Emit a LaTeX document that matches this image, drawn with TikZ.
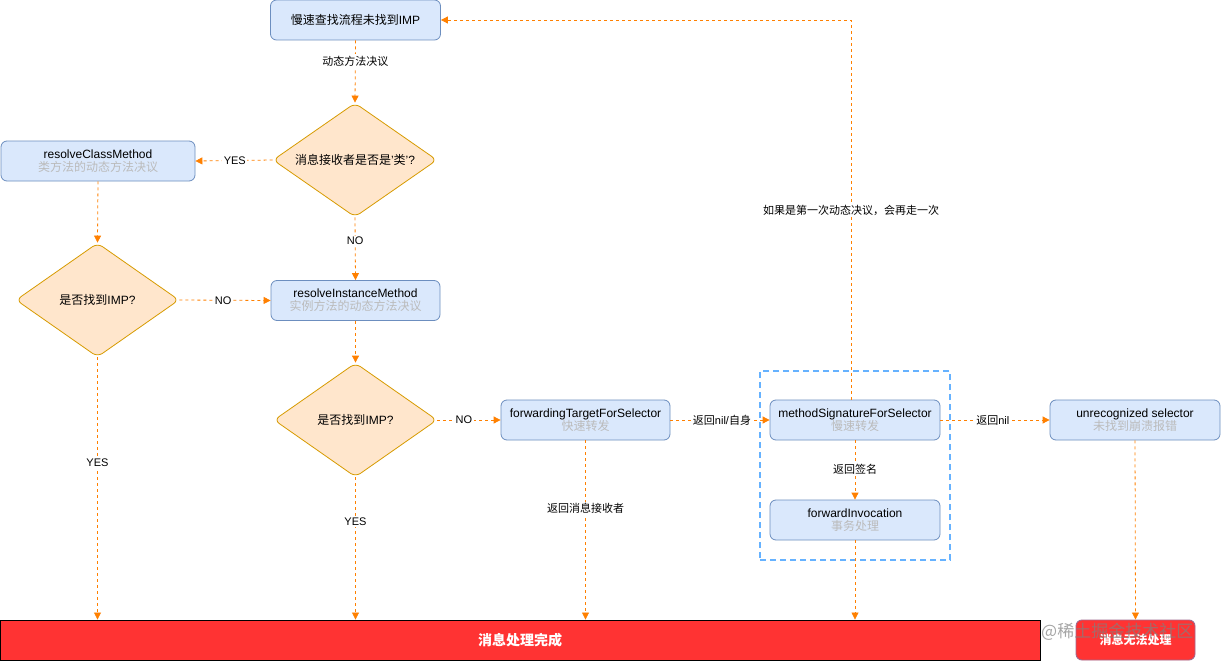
\documentclass[tikz,border=0pt]{standalone}
\usepackage{fontspec}
\setmainfont{Liberation Sans}
\newfontfamily\cjk{Noto Sans CJK SC}
\usetikzlibrary{shapes.geometric,arrows.meta}
\newcommand{\zh}[1]{{\cjk #1}}
\definecolor{nodefill}{HTML}{DAE8FC}
\definecolor{nodeline}{HTML}{6C8EBF}
\definecolor{decfill}{HTML}{FFE6CC}
\definecolor{decline}{HTML}{D79B00}
\definecolor{arrowc}{HTML}{FF8000}
\definecolor{barred}{HTML}{FF3333}
\definecolor{subgray}{HTML}{BBBBBB}
\definecolor{boxblue}{HTML}{66B2FF}
\definecolor{redline}{HTML}{A0698F}
\tikzset{
  proc/.style={draw=nodeline, fill=nodefill, rounded corners=6pt, minimum width=169pt,
    minimum height=40pt, inner sep=0pt, align=center, line width=0.8pt,
    font=\fontsize{12}{14}\selectfont},
  dec/.style={diamond, aspect=1.44, draw=decline, fill=decfill, rounded corners=6pt, minimum width=164pt,
    minimum height=114pt, inner sep=0pt, line width=0.8pt, font=\fontsize{12}{14}\selectfont},
  flow/.style={draw=arrowc, dash pattern=on 3pt off 3pt, line width=0.8pt,
    -{Triangle[length=7pt,width=7pt]}},
  lbl/.style={fill=white, inner sep=1.5pt, font=\fontsize{11}{13}\selectfont, text=black},
  sub/.style={text=subgray}
}
\begin{document}
\begin{tikzpicture}[x=1pt,y=-1pt]
\useasboundingbox (0,0) rectangle (1221,661);
\fill[white] (0,0) rectangle (1221,661);

% group box
\node[draw=boxblue, dash pattern=on 6pt off 4pt, line width=1.6pt, minimum width=190pt,
  minimum height=189pt, inner sep=0pt] (grp) at (855,465.5) {};

% nodes
\node[proc, minimum width=170pt] (top) at (355.5,20) {\zh{慢速查找流程未找到}IMP};
\node[dec] (d1) at (355,160) {\zh{消息接收者是否是}'\zh{类}'?};
\node[proc, minimum width=194pt] (rc) at (98,161) {resolveClassMethod\\[-1pt]\textcolor{subgray}{\zh{类方法的动态方法决议}}};
\node[dec, minimum width=163pt] (d2) at (97.5,300) {\zh{是否找到}IMP?};
\node[proc] (ri) at (355.5,300.5) {resolveInstanceMethod\\[-1pt]\textcolor{subgray}{\zh{实例方法的动态方法决议}}};
\node[dec, minimum width=163pt] (d3) at (355.5,420) {\zh{是否找到}IMP?};
\node[proc] (ft) at (585.5,420) {forwardingTargetForSelector\\[-1pt]\textcolor{subgray}{\zh{快速转发}}};
\node[proc, minimum width=170pt] (ms) at (855,420) {methodSignatureForSelector\\[-1pt]\textcolor{subgray}{\zh{慢速转发}}};
\node[proc, minimum width=170pt] (fi) at (855,520) {forwardInvocation\\[-1pt]\textcolor{subgray}{\zh{事务处理}}};
\node[proc, minimum width=170pt] (ur) at (1135,420) {unrecognized selector\\[-1pt]\textcolor{subgray}{\zh{未找到崩溃报错}}};
\node[draw=black, fill=barred, line width=0.9pt, minimum width=1040pt, minimum height=40pt,
  inner sep=0pt, text=white, font=\fontsize{14}{16}\selectfont\cjk\bfseries] (bar) at (520,640) {消息处理完成};
\node[draw=redline, fill=barred, rounded corners=6pt, line width=0.9pt, minimum width=119pt,
  minimum height=40pt, inner sep=0pt, text=white, font=\fontsize{12}{14}\selectfont\cjk\bfseries] (nf) at (1135.5,640) {消息无法处理};

% connectors
\draw[flow] (top.south) -- node[lbl, pos=0.33] {\zh{动态方法决议}} (d1.north);
\draw[flow] (d1.west) -- node[lbl, pos=0.49] {YES} (rc.east);
\draw[flow] (d1.south) -- node[lbl, pos=0.375] {NO} (ri.north);
\draw[flow] (rc.south) -- (d2.north);
\draw[flow] (d2.east) -- node[lbl, pos=0.48] {NO} (ri.west);
\draw[flow] (d2.south) -- node[lbl, pos=0.4] {YES} (d2.south |- bar.north);
\draw[flow] (ri.south) -- (d3.north);
\draw[flow] (d3.east) -- node[lbl, pos=0.42] {NO} (ft.west);
\draw[flow] (d3.south) -- node[lbl, pos=0.31] {YES} (d3.south |- bar.north);
\draw[flow] (ft.south) -- node[lbl, pos=0.38] {\zh{返回消息接收者}} (ft.south |- bar.north);
\draw[flow] (ft.east) -- node[lbl, pos=0.52] {\zh{返回}nil/\zh{自身}} (ms.west);
\draw[flow] (ms.south) -- node[lbl, pos=0.48] {\zh{返回签名}} (fi.north);
\draw[flow] (fi.south) -- (fi.south |- bar.north);
\draw[flow] ([xshift=-4pt]ms.north) |- node[lbl, pos=0.249] {\zh{如果是第一次动态决议，会再走一次}} (top.east);
\draw[flow] (ms.east) -- node[lbl, pos=0.48] {\zh{返回}nil} (ur.west);
\draw[flow] (ur.south) -- (nf.north);

% watermark
\node[text=gray, opacity=0.7, font=\fontsize{17}{19}\selectfont\cjk, inner sep=0pt, anchor=west] (wm) at (1041,632) {@稀土掘金技术社区};
\end{tikzpicture}
\end{document}
